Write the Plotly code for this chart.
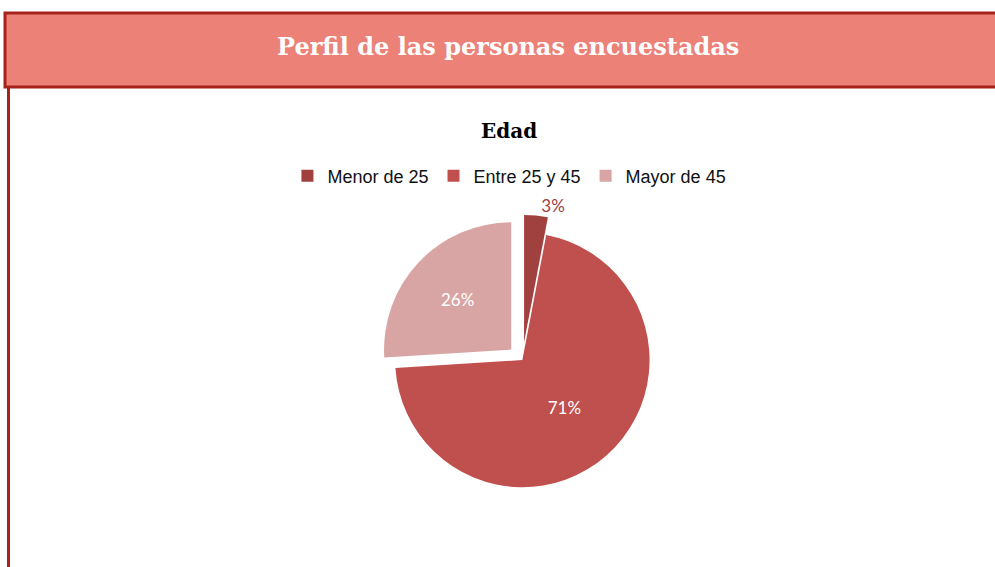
import plotly.graph_objects as go

categories = ["Menor de 25", "Entre 25 y 45", "Mayor de 45"]
values = [3, 71, 26]
colors = ["#A0403F", "#C0504D", "#D9A5A4"]
pulls = [0.14, 0.0, 0.12]

W, H = 995, 567

def py(p):
    return 1 - p / H

def px(p):
    return p / W

fig = go.Figure()
fig.add_trace(go.Pie(
    labels=categories,
    values=values,
    sort=False,
    direction="clockwise",
    rotation=0,
    pull=pulls,
    marker=dict(colors=colors, line=dict(color="white", width=0)),
    texttemplate="%{percent:.0%}",
    textposition=["outside", "inside", "inside"],
    insidetextfont=dict(color="white", size=17, family="Lato"),
    outsidetextfont=dict(color="#A0403F", size=17, family="Lato"),
    domain=dict(x=[0.25, 0.8], y=[py(505), py(215)]),
    hoverinfo="label+percent",
    showlegend=True,
))

fig.update_layout(
    width=W, height=H,
    margin=dict(l=0, r=0, t=0, b=0),
    paper_bgcolor="white",
    plot_bgcolor="white",
    showlegend=True,
    legend=dict(
        orientation="h",
        x=0.512, xanchor="center",
        y=py(176), yanchor="middle",
        font=dict(family="Liberation Sans, Arial", size=18, color="#111111"),
        itemclick=False,
        itemwidth=30,
    ),
    shapes=[
        dict(type="rect", xref="paper", yref="paper",
             x0=px(5), x1=px(1010), y0=py(87), y1=py(13),
             fillcolor="#EC8178", line=dict(color="#A5231A", width=3), layer="below"),
        dict(type="line", xref="paper", yref="paper",
             x0=px(8.5), x1=px(8.5), y0=py(88), y1=py(580),
             line=dict(color="#A5231A", width=3)),
    ],
    annotations=[
        dict(text="<b>Perfil de las personas encuestadas</b>", xref="paper", yref="paper",
             x=px(508), y=py(46), xanchor="center", yanchor="middle", showarrow=False,
             font=dict(family="DejaVu Serif, serif", size=24, color="white")),
        dict(text="<b>Edad</b>", xref="paper", yref="paper",
             x=px(509), y=py(131), xanchor="center", yanchor="middle", showarrow=False,
             font=dict(family="DejaVu Serif, serif", size=20, color="black")),
    ],
)

fig.write_html(
    "out.html",
    config={"displayModeBar": False},
    post_script="document.body.style.margin='0';document.body.style.overflow='hidden';",
)
